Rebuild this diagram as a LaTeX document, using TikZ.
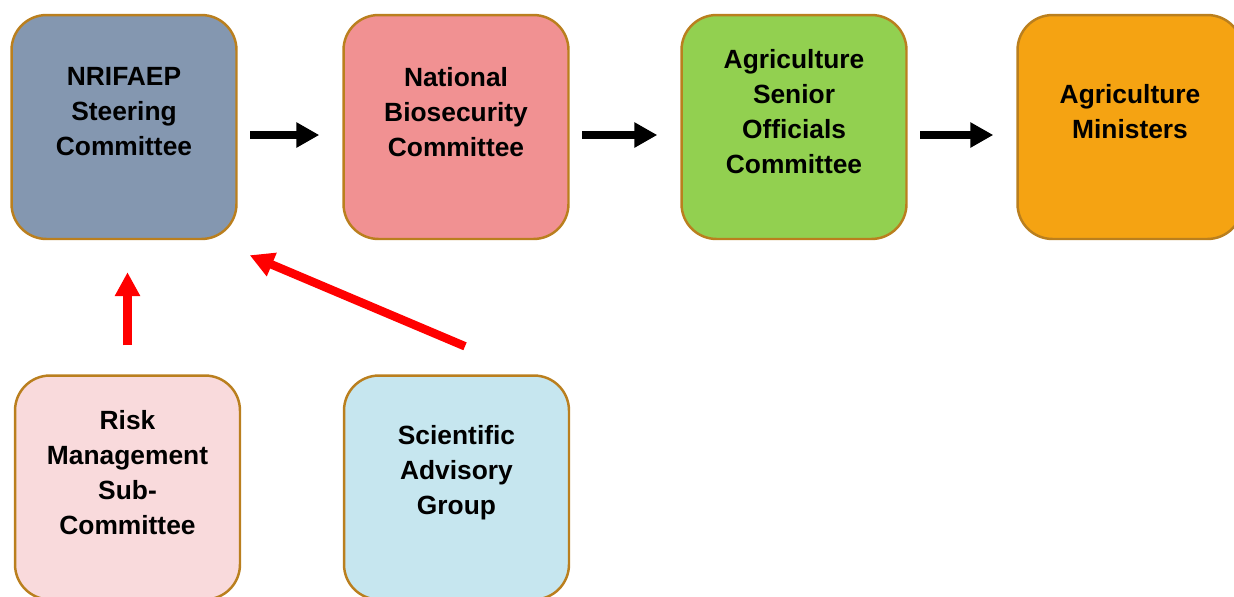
\documentclass[tikz,border=0pt]{standalone}
\usepackage{fontspec}
\setmainfont{Liberation Sans}
\usetikzlibrary{arrows.meta}

\definecolor{edgebrown}{HTML}{BA7F1E}
\definecolor{nsccol}{HTML}{8497B0}
\definecolor{nbccol}{HTML}{F19192}
\definecolor{asoccol}{HTML}{92D050}
\definecolor{amcol}{HTML}{F5A312}
\definecolor{rmsccol}{HTML}{F9DADC}
\definecolor{sagcol}{HTML}{C6E6EF}

\begin{document}
\begin{tikzpicture}[x=0.02cm,y=-0.02cm,
  box/.style={draw=edgebrown,line width=1.4pt,fill=#1,rounded corners=0.7cm,
    minimum width=4.5cm,minimum height=4.48cm},
  txt/.style={align=center,yshift=0.3cm,
    font=\fontsize{15pt}{19.9pt}\selectfont\bfseries},
  blkarrow/.style={line width=0.16cm,-{Triangle[length=0.46cm,width=0.48cm]},
    shorten <=0.25cm,shorten >=0.46cm,transform canvas={yshift=-0.16cm}},
  redarrow/.style={red,line width=0.17cm,-{Triangle[length=0.48cm,width=0.48cm]}}]
\useasboundingbox (0,0) rectangle (1234,596);

% top row: reporting line
\node[box=nsccol,label={[txt]center:NRIFAEP\\Steering\\Committee}] (nsc) at (124,127) {};
\node[box=nbccol,label={[txt]center:National\\Biosecurity\\Committee}] (nbc) at (456,127) {};
\node[box=asoccol,label={[txt]center:Agriculture\\Senior\\Officials\\Committee}] (asoc) at (794,127) {};
\node[box=amcol,label={[txt]center:Agriculture\\Ministers}] (am) at (1130,127) {};

% bottom row: advisory groups
\node[box=rmsccol,label={[txt]center:Risk\\Management\\Sub-\\Committee}] (rmsc) at (127.5,487.5) {};
\node[box=sagcol,label={[txt]center:Scientific\\Advisory\\Group}] (sag) at (456.5,487.5) {};

\draw[blkarrow] (nsc.east) -- (nbc.west);
\draw[blkarrow] (nbc.east) -- (asoc.west);
\draw[blkarrow] (asoc.east) -- (am.west);

% advice flows up to the steering committee
\coordinate (sagtail) at ([shift={(8.5,-28)}]sag.north);
\coordinate (nsctip) at ([shift={(12,15)}]nsc.south east);
\draw[redarrow,shorten <=0.58cm,shorten >=0.64cm] (rmsc.north) -- (rmsc.north |- nsc.south);
\draw[redarrow] (sagtail) -- (nsctip);
\end{tikzpicture}
\end{document}
